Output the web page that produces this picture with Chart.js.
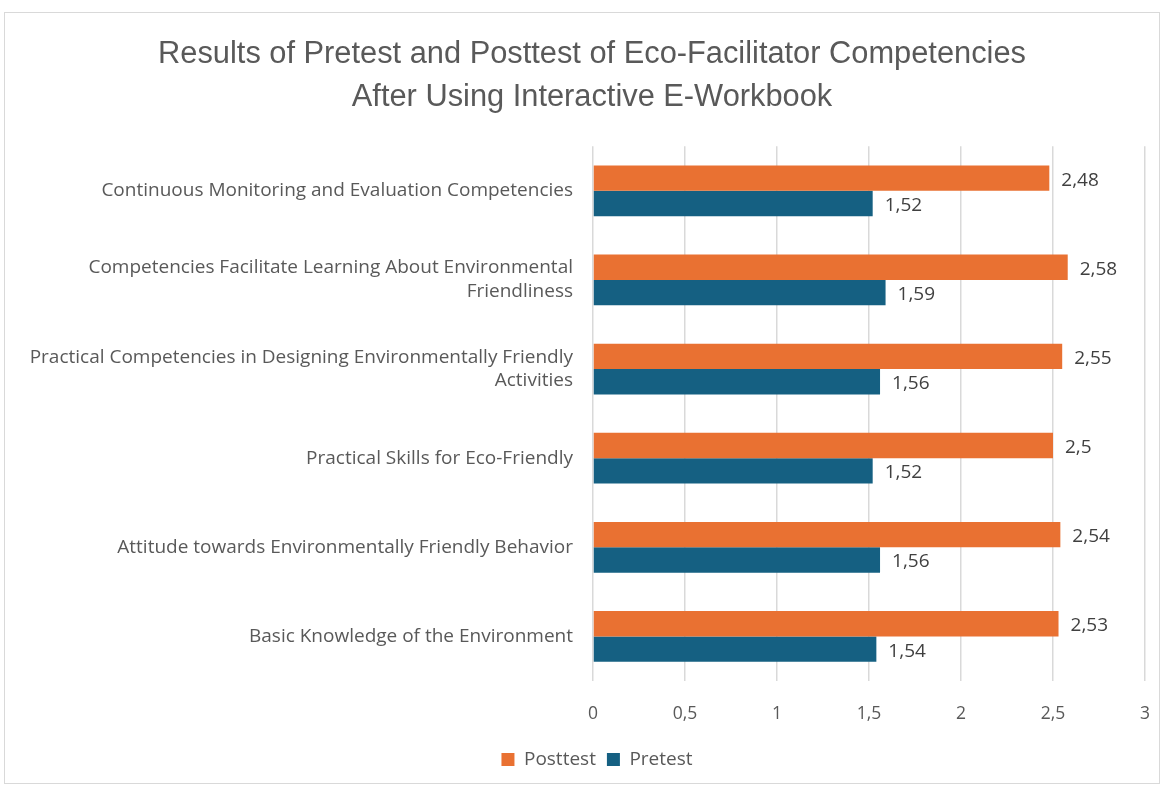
<!DOCTYPE html>
<html>
<head>
<meta charset="utf-8">
<script src="https://cdn.jsdelivr.net/npm/chart.js@4.4.1/dist/chart.umd.min.js"></script>
<style>
  html, body { margin: 0; padding: 0; background: #fff; }
  #box {
    position: absolute; left: 4px; top: 12px;
    width: 1156px; height: 772px;
    border: 1px solid #d9d9d9; box-sizing: border-box;
  }
  #chart { display: block; }
</style>
</head>
<body>
<div id="box"><canvas id="chart" width="1154" height="770"></canvas></div>
<script>
const categories = [
  "Continuous Monitoring and Evaluation Competencies",
  ["Competencies Facilitate Learning About Environmental", "Friendliness"],
  ["Practical Competencies in Designing Environmentally Friendly", "Activities"],
  "Practical Skills for Eco-Friendly",
  "Attitude towards Environmentally Friendly Behavior",
  "Basic Knowledge of the Environment"
];
const posttest = [2.48, 2.58, 2.55, 2.5, 2.54, 2.53];
const pretest = [1.52, 1.59, 1.56, 1.52, 1.56, 1.54];

const fmt = v => String(v).replace(".", ",");
const FONT = "'Liberation Sans', Roboto, sans-serif";
const BODY = "'Open Sans', Roboto, sans-serif";

// draws value labels at the end of each bar
const valueLabels = {
  id: "valueLabels",
  afterDatasetsDraw(chart) {
    const ctx = chart.ctx;
    ctx.save();
    ctx.font = "19px " + BODY;
    ctx.fillStyle = "#404040";
    ctx.textBaseline = "middle";
    ctx.textAlign = "left";
    chart.data.datasets.forEach((ds, i) => {
      chart.getDatasetMeta(i).data.forEach((bar, j) => {
        ctx.fillText(fmt(ds.data[j]), bar.x + 12, bar.y + 2);
      });
    });
    ctx.restore();
  }
};

// title and legend sit a bit right of centre in the original
const nudge = {
  id: "nudge",
  afterLayout(chart) {
    if (chart.titleBlock) { chart.titleBlock.left += 17; chart.titleBlock.right += 17; }
    if (chart.legend) { chart.legend.left += 22; chart.legend.right += 22; }
  }
};

new Chart(document.getElementById("chart"), {
  type: "bar",
  data: {
    labels: categories,
    datasets: [
      { label: "Posttest", data: posttest, backgroundColor: "#E97132" },
      { label: "Pretest", data: pretest, backgroundColor: "#156082" }
    ]
  },
  options: {
    indexAxis: "y",
    responsive: false,
    animation: false,
    layout: { padding: { left: 0, right: 14, top: 8, bottom: 4 } },
    datasets: { bar: { categoryPercentage: 0.57, barPercentage: 1.0 } },
    plugins: {
      title: {
        display: true,
        text: ["Results of Pretest and Posttest of Eco-Facilitator Competencies", "After Using Interactive E-Workbook"],
        color: "#595959",
        font: { family: FONT, size: 30.8, weight: "normal", lineHeight: 1.4 },
        padding: { top: 12, bottom: 27 }
      },
      legend: {
        position: "bottom",
        labels: {
          color: "#595959",
          font: { family: BODY, size: 19 },
          boxWidth: 13, boxHeight: 13, padding: 11
        }
      },
      tooltip: { enabled: false }
    },
    scales: {
      x: {
        min: 0, max: 3,
        ticks: {
          stepSize: 0.5,
          color: "#595959",
          font: { family: BODY, size: 17.5 },
          padding: 23,
          callback: v => fmt(v)
        },
        grid: { color: "#d9d9d9", lineWidth: 1.5, drawTicks: false },
        border: { display: false },
        afterFit: s => { s.height -= 9; s.paddingLeft = 0; s.paddingRight = 0; }
      },
      y: {
        ticks: {
          color: "#595959",
          font: { family: BODY, size: 19, lineHeight: 1.25 },
          padding: 12
        },
        grid: { display: false },
        border: { display: false },
        afterFit: s => { s.width = 588; }
      }
    }
  },
  plugins: [valueLabels, nudge]
});
</script>
</body>
</html>
